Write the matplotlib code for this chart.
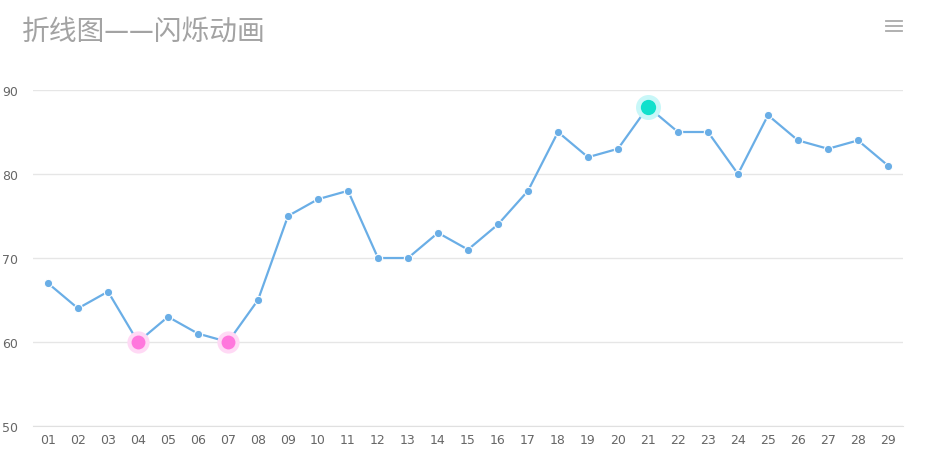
import matplotlib.pyplot as plt
from matplotlib.lines import Line2D

plt.rcParams['font.family'] = ['Noto Sans CJK SC', 'DejaVu Sans']

# data
days = ['%02d' % d for d in range(1, 30)]
values = [67, 64, 66, 60, 63, 61, 60, 65, 75, 77, 78, 70, 70, 73, 71, 74,
          78, 85, 82, 83, 88, 85, 85, 80, 87, 84, 83, 84, 81]
low_days = ['04', '07']
high_days = ['21']
y_ticks = [50, 60, 70, 80, 90]

W, H = 934, 460
fig = plt.figure(figsize=(W / 100, H / 100), dpi=100)
fig.patch.set_facecolor('white')

# plot area in pixels: x 33..903, y 91..427
ax = fig.add_axes([33 / W, (H - 427) / H, (903 - 33) / W, (427 - 91) / H])
x = list(range(len(days)))

ax.plot(x, values, color='#6aaee6', lw=1.6, marker='o', ms=6,
        markerfacecolor='#6aaee6', markeredgecolor='white', markeredgewidth=0.8,
        zorder=3)

# blinking highlight points
for d in low_days:
    i = days.index(d)
    ax.plot(i, values[i], 'o', ms=16, color='#ffd9f5', markeredgewidth=0, zorder=4)
    ax.plot(i, values[i], 'o', ms=10, color='#ff77dd', markeredgewidth=0, zorder=5)
for d in high_days:
    i = days.index(d)
    ax.plot(i, values[i], 'o', ms=18, color='#c8f7f8', markeredgewidth=0, zorder=4)
    ax.plot(i, values[i], 'o', ms=11, color='#11e0cc', markeredgewidth=0, zorder=5)

ax.set_xlim(-0.5, len(days) - 0.5)
ax.set_ylim(50, 90)
ax.set_xticks(x)
ax.set_xticklabels(days)
ax.set_yticks(y_ticks)
ax.grid(axis='y', color='#e6e6e6', lw=1)
ax.set_axisbelow(True)
for s in ['top', 'right', 'left']:
    ax.spines[s].set_visible(False)
ax.spines['bottom'].set_color('#e0e0e0')
ax.tick_params(axis='both', length=0, colors='#666666', labelsize=9)
ax.tick_params(axis='x', pad=5)
ax.tick_params(axis='y', pad=11)
for lab in ax.get_xticklabels() + ax.get_yticklabels():
    lab.set_family('DejaVu Sans')
ax.set_clip_on(False)

# title
fig.text(22 / W, 1 - 32 / H, '折线图——闪烁动画', fontsize=20, color='#a3a3a3',
         va='center', ha='left')

# menu icon
for yy in [22, 27, 32]:
    fig.add_artist(Line2D([886 / W, 902 / W], [1 - yy / H, 1 - yy / H],
                          color='#aaaaaa', lw=1.3, transform=fig.transFigure))

fig.savefig('out.png', dpi=100)
